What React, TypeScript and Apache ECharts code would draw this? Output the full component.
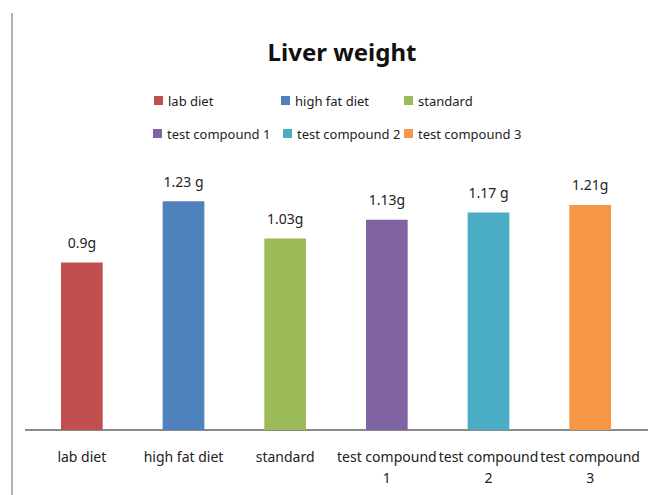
import React, { useEffect, useRef } from "react";
import * as echarts from "echarts";

// Liver weight per diet group
const categories = [
  "lab diet",
  "high fat diet",
  "standard",
  "test compound 1",
  "test compound 2",
  "test compound 3",
];
const weights = [0.9, 1.23, 1.03, 1.13, 1.17, 1.21];
const unitSuffix = ["g", " g", "g", "g", " g", "g"];
const colors = ["#C0504D", "#4F81BD", "#9BBB59", "#8064A2", "#4BACC6", "#F79646"];

const FONT = "'Noto Sans', sans-serif";

// legend placement: [left, top] for each group
const legendPos: [number, number][] = [
  [154, 94],
  [281, 94],
  [404, 94],
  [153, 127],
  [283, 127],
  [404, 127],
];

export default function App() {
  const ref = useRef<HTMLDivElement>(null);

  useEffect(() => {
    if (!ref.current) return;
    const chart = echarts.init(ref.current, undefined, { renderer: "svg" });

    const series = categories.map((name, i) => ({
      name,
      type: "bar" as const,
      stack: "all",
      barWidth: "41%",
      itemStyle: { color: colors[i] },
      data: categories.map((_, j) => (j === i ? weights[i] : "-")),
      label: {
        show: true,
        position: "top" as const,
        distance: 13,
        color: "#222",
        fontFamily: FONT,
        fontSize: 14,
        formatter: (p: any) => `${p.value}${unitSuffix[i]}`,
      },
    }));

    const legends = categories.map((name, i) => ({
      data: [name],
      left: legendPos[i][0],
      top: legendPos[i][1],
      icon: "rect",
      itemWidth: 9,
      itemHeight: 9,
      itemGap: 0,
      padding: 0,
      textStyle: { fontFamily: FONT, fontSize: 13, color: "#222" },
      selectedMode: false,
    }));

    chart.setOption({
      animation: false,
      backgroundColor: "#fff",
      title: {
        text: "Liver weight",
        left: 337,
        top: 34,
        textAlign: "center",
        textStyle: { fontFamily: FONT, fontSize: 24, fontWeight: "bold", color: "#111" },
      },
      legend: legends,
      grid: { left: 31, right: 7, top: 169.6, bottom: 65 },
      xAxis: {
        type: "category",
        data: categories,
        axisTick: { show: false },
        axisLine: { lineStyle: { color: "#8a8a8a", width: 2 } },
        axisLabel: {
          interval: 0,
          margin: 16,
          color: "#222",
          fontFamily: FONT,
          fontSize: 14,
          lineHeight: 21,
          formatter: (v: string) => v.replace(/ (\d)$/, "\n$1"),
        },
      },
      yAxis: {
        type: "value",
        min: 0,
        max: 1.4,
        show: false,
        splitLine: { show: false },
      },
      series,
      graphic: [
        {
          type: "line",
          shape: { x1: 12, y1: 13, x2: 12, y2: 495 },
          style: { stroke: "#9a9a9a", lineWidth: 1.5 },
        },
        {
          type: "line",
          shape: { x1: 25, y1: 430, x2: 648, y2: 430 },
          style: { stroke: "#8a8a8a", lineWidth: 2 },
        },
      ],
    });

    return () => chart.dispose();
  }, []);

  return (
    <div
      ref={ref}
      style={{ position: "fixed", left: 0, top: 0, width: 648, height: 495 }}
    />
  );
}
